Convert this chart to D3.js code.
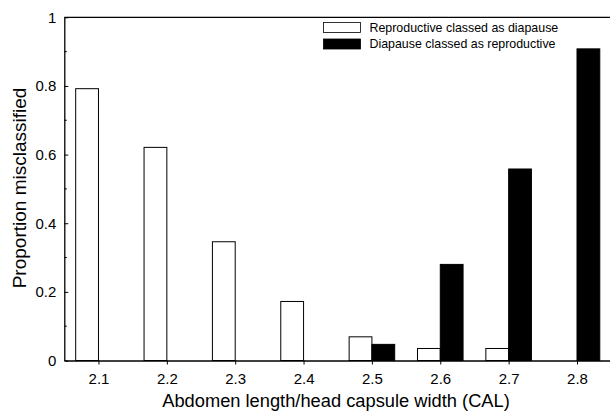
<!DOCTYPE html>
<html>
<head>
<meta charset="UTF-8">
<title>Proportion misclassified</title>
<script src="https://d3js.org/d3.v7.min.js"></script>
<style>
    body { margin: 0; background: #fff; overflow: hidden; }
    text { font-family: Arial, "Liberation Sans", sans-serif; fill: #000; }
</style>
</head>
<body>
<svg id="chart" width="610" height="415"></svg>
<script>
    // data
    const cal = [2.1, 2.2, 2.3, 2.4, 2.5, 2.6, 2.7, 2.8];
    const reproAsDiapause = [0.792, 0.621, 0.346, 0.172, 0.069, 0.035, 0.035, 0];
    const diapauseAsRepro = [0, 0, 0, 0, 0.047, 0.280, 0.558, 0.908];
    const yTicks = [0, 0.2, 0.4, 0.6, 0.8, 1];
    const yMinor = [0.1, 0.3, 0.5, 0.7, 0.9];
    const seriesNames = ["Reproductive classed as diapause", "Diapause classed as reproductive"];

    const svg = d3.select('#chart');
    const plotLeft = 64.3, plotTop = 17.3, plotBottom = 360.5;

    // the original figure is cut at the right edge, so the axis runs past the window
    const x = d3.scaleLinear().domain([2.05, 2.9]).range([plotLeft, plotLeft + 0.85 * 683.6]);
    const y = d3.scaleLinear().domain([0, 1]).range([plotBottom, plotTop]);
    const bw = 1 / 30; // bar width in CAL units

    const whiteBars = cal.map((c, i) => ({ c, v: reproAsDiapause[i] })).filter(d => d.v > 0);
    const blackBars = cal.map((c, i) => ({ c, v: diapauseAsRepro[i] })).filter(d => d.v > 0);

    // bars
    const g = svg.append('g');
    g.selectAll('.white').data(whiteBars).join('rect')
        .attr('class', 'white')
        .attr('x', d => x(d.c - bw))
        .attr('width', d => x(d.c) - x(d.c - bw))
        .attr('y', d => y(d.v))
        .attr('height', d => plotBottom - y(d.v))
        .attr('fill', '#fff').attr('stroke', '#000').attr('stroke-width', 1);

    g.selectAll('.black').data(blackBars).join('rect')
        .attr('class', 'black')
        .attr('x', d => x(d.c))
        .attr('width', d => x(d.c + bw) - x(d.c))
        .attr('y', d => y(d.v))
        .attr('height', d => plotBottom - y(d.v))
        .attr('fill', '#000').attr('stroke', '#000').attr('stroke-width', 1);

    // axes
    const xAxis = svg.append('g').attr('transform', `translate(0,${plotBottom})`)
        .call(d3.axisBottom(x).tickValues(cal).tickFormat(d3.format('.1f')).tickSize(4).tickSizeOuter(0));
    xAxis.select('.domain').attr('stroke-width', 1.3);
    xAxis.selectAll('text').attr('font-size', 15).attr('dy', '1.1em');

    const yAxis = svg.append('g').attr('transform', `translate(${plotLeft},0)`)
        .call(d3.axisLeft(y).tickValues(yTicks).tickFormat(d => d === 0 || d === 1 ? d : d3.format('.1f')(d))
            .tickSize(-4).tickSizeOuter(0).tickPadding(8));
    yAxis.select('.domain').attr('stroke-width', 1.3);
    yAxis.selectAll('text').attr('font-size', 15);
    yAxis.selectAll('.minor').data(yMinor).join('line')
        .attr('class', 'minor')
        .attr('x1', 0).attr('x2', 2.5)
        .attr('y1', d => y(d)).attr('y2', d => y(d))
        .attr('stroke', '#000');

    // top frame line
    svg.append('line')
        .attr('x1', plotLeft).attr('x2', 610).attr('y1', plotTop).attr('y2', plotTop)
        .attr('stroke', '#000').attr('stroke-width', 1.3);

    // axis titles
    svg.append('text')
        .attr('x', 336).attr('y', 407)
        .attr('text-anchor', 'middle').attr('font-size', 18.3)
        .text('Abdomen length/head capsule width (CAL)');
    svg.append('text')
        .attr('transform', `translate(26,188) rotate(-90)`)
        .attr('text-anchor', 'middle').attr('font-size', 19)
        .text('Proportion misclassified');

    // legend
    const legend = svg.append('g').attr('transform', 'translate(323.5,22.5)');
    seriesNames.forEach((name, i) => {
        legend.append('rect')
            .attr('x', 0).attr('y', i * 16.5)
            .attr('width', 37).attr('height', 10)
            .attr('fill', i === 0 ? '#fff' : '#000')
            .attr('stroke', '#000').attr('stroke-width', 0.8);
        legend.append('text')
            .attr('x', 46).attr('y', i * 16.5 + 5)
            .attr('dy', '0.35em').attr('font-size', 12.4)
            .text(name);
    });
</script>
</body>
</html>
